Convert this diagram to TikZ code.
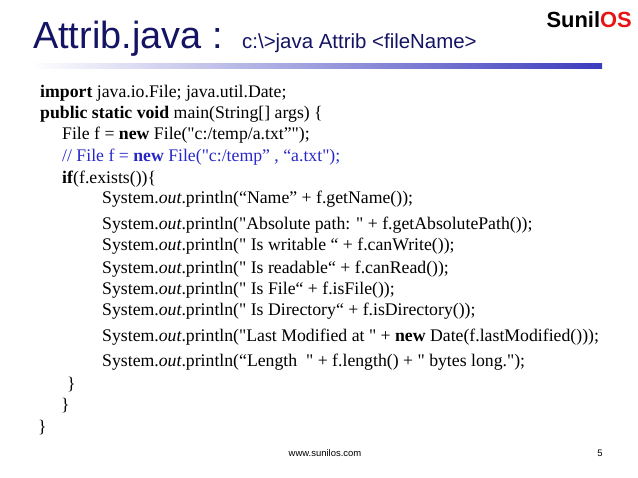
\documentclass[tikz,border=0pt]{standalone}
\usepackage{fontspec}
\setmainfont[Ligatures=TeXOff]{Liberation Serif}
\setsansfont{Liberation Sans}
\usepackage{tikz}
\usetikzlibrary{positioning}
\definecolor{titleblue}{RGB}{20,20,100}
\definecolor{barblue}{RGB}{60,60,190}
\definecolor{cmtblue}{RGB}{40,40,200}
\definecolor{logored}{RGB}{230,20,20}
\newcommand{\dq}{\symbol{34}}
\tikzset{code/.style={anchor=base west,inner sep=0pt,font=\fontsize{17.8}{19}\selectfont}}
\begin{document}
\begin{tikzpicture}[x=1bp,y=-1bp]
\useasboundingbox (0,0) rectangle (638,478);
\node (title) at (33,49)[anchor=base west,inner sep=0pt,text=titleblue,font=\sffamily\fontsize{38}{40}\selectfont] {Attrib.java :};
\node (sub) at (242,49)[anchor=base west,inner sep=0pt,text=titleblue,font=\sffamily\fontsize{20.5}{22}\selectfont] {c:\textbackslash>java Attrib <fileName>};
\node (logo) at (632,28)[anchor=base east,inner sep=0pt,font=\sffamily\bfseries\fontsize{22}{24}\selectfont] {Sunil\textcolor{logored}{OS}};
\shade [left color=white,right color=barblue] (30,64) rectangle (602,69);
\node (l1) at (40,98)[code] {\textbf{import} java.io.File; java.util.Date;};
\node (l2) at (40,119)[code] {\textbf{public static void} main(String[] args) \{};
\node (l3) at (62,140)[code] {File f = \textbf{new} File(\dq c:/temp/a.txt”\dq);};
\node (l4) at (62,162)[code,text=cmtblue] {// File f = \textbf{new} File(\dq c:/temp” , “a.txt\dq);};
\node (l5) at (62,184)[code] {\textbf{if}(f.exists())\{};
\node (l6) at (102,204)[code] {System.\textit{out}.println(“Name” + f.getName());};
\node (l7) at (102,230)[code] {System.\textit{out}.println(\dq Absolute path: \dq{} + f.getAbsolutePath());};
\node (l8) at (102,251)[code] {System.\textit{out}.println(\dq{} Is writable “ + f.canWrite());};
\node (l9) at (102,273)[code] {System.\textit{out}.println(\dq{} Is readable“ + f.canRead());};
\node (l10) at (102,294)[code] {System.\textit{out}.println(\dq{} Is File“ + f.isFile());};
\node (l11) at (102,315)[code] {System.\textit{out}.println(\dq{} Is Directory“ + f.isDirectory());};
\node (l12) at (102,341)[code] {System.\textit{out}.println(\dq Last Modified at \dq{} + \textbf{new} Date(f.lastModified()));};
\node (l13) at (102,366)[code] {System.\textit{out}.println(“Length~~\dq{} + f.length() + \dq{} bytes long.\dq);};
\node (l14) at (67,389)[code] {\}};
\node (l15) at (61,410)[code] {\}};
\node (l16) at (38,432)[code] {\}};
\node (url) at (325,456)[anchor=base,inner sep=0pt,font=\sffamily\fontsize{9.5}{11}\selectfont] {www.sunilos.com};
\node (page) at (600,456)[anchor=base,inner sep=0pt,font=\sffamily\fontsize{9.5}{11}\selectfont] {5};
\end{tikzpicture}
\end{document}
